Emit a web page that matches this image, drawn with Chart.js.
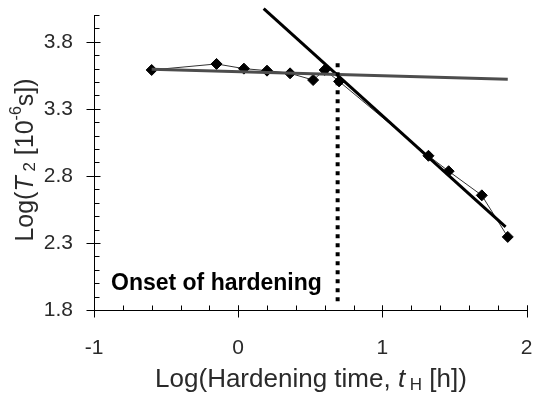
<!DOCTYPE html>
<html>
<head>
<meta charset="utf-8">
<script src="https://cdn.jsdelivr.net/npm/chart.js@4.4.1/dist/chart.umd.min.js"></script>
<style>
  html, body { margin: 0; padding: 0; background: #fff; }
  #wrap { width: 533px; height: 396px; }
</style>
</head>
<body>
<div id="wrap"><canvas id="chart" width="533" height="396"></canvas></div>
<script>
// valores
let logTime = [-0.6, -0.15, 0.04, 0.2, 0.36, 0.52, 0.6, 0.7, 1.32, 1.46, 1.69, 1.87];
let logT2 = [3.59, 3.635, 3.60, 3.585, 3.565, 3.515, 3.59, 3.505, 2.95, 2.835, 2.655, 2.345];

// retas de ajuste (pontos extremos)
let flatFitX = [-0.6, 1.87];
let flatFitY = [3.595, 3.52];
let steepFitX = [0.177, 1.855];
let steepFitY = [4.047, 2.42];

// linha pontilhada do inicio do endurecimento
let onsetX = [0.69, 0.69];
let onsetY = [3.64, 1.84];

let xTicks = [-1, 0, 1, 2];
let yTicks = [1.8, 2.3, 2.8, 3.3, 3.8];
let xMinorStep = 0.2;
let yMinorStep = 0.1;

const FONT = '"Liberation Sans", Arial, sans-serif';
const TXT = '#2a2a2a';

function pts(xs, ys){
	return xs.map((x, i) => {return {x: x, y: ys[i]}});
}

function noPad(s){
	s.paddingTop = 0; s.paddingBottom = 0; s.paddingLeft = 0; s.paddingRight = 0;
}

// desenha eixos e marcas de escala
const axesPlugin = {
	id: 'axesPlugin',
	afterDatasetsDraw(chart){
		const ctx = chart.ctx;
		const xs = chart.scales.x, ys = chart.scales.y;
		const x0 = Math.round(xs.left) + 0.5, y0 = Math.round(ys.bottom) + 0.5;
		ctx.save();
		ctx.strokeStyle = '#000';
		ctx.lineWidth = 1;
		ctx.beginPath();
		ctx.moveTo(x0, Math.round(ys.top));
		ctx.lineTo(x0, y0);
		ctx.lineTo(Math.round(xs.right) + 1, y0);
		for(let v = xs.min; v <= xs.max + 1e-9; v += xMinorStep){
			let px = Math.round(xs.getPixelForValue(v)) + 0.5;
			ctx.moveTo(px, y0);
			ctx.lineTo(px, y0 - 5);
		}
		for(let v = ys.min; v <= ys.max + 1e-9; v += yMinorStep){
			let py = Math.round(ys.getPixelForValue(v)) + 0.5;
			ctx.moveTo(x0, py);
			ctx.lineTo(x0 + 5, py);
		}
		xTicks.forEach((v) => {
			let px = Math.round(xs.getPixelForValue(v)) + 0.5;
			ctx.moveTo(px, y0 - 5);
			ctx.lineTo(px, y0 + 7);
		});
		yTicks.forEach((v) => {
			let py = Math.round(ys.getPixelForValue(v)) + 0.5;
			ctx.moveTo(x0 - 8, py);
			ctx.lineTo(x0 + 6, py);
		});
		ctx.stroke();
		ctx.restore();
	},
	afterDraw(chart){
		const ctx = chart.ctx;
		ctx.save();
		ctx.fillStyle = '#000';
		ctx.font = 'bold 23px ' + FONT;
		ctx.textBaseline = 'middle';
		ctx.fillText('Onset of hardening', 111, 284);

		// titulo eixo x
		ctx.fillStyle = TXT;
		drawRich(ctx, [
			{t: 'Log(Hardening time, ', f: '26px ' + FONT, dy: 0},
			{t: 't', f: 'italic 26px ' + FONT, dy: 0},
			{t: ' H', f: '17px ' + FONT, dy: 5},
			{t: ' [h])', f: '26px ' + FONT, dy: 0}
		], 311, 380);

		// titulo eixo y
		ctx.translate(26, 160);
		ctx.rotate(-Math.PI / 2);
		drawRich(ctx, [
			{t: 'Log(', f: '25px ' + FONT, dy: 0},
			{t: 'T', f: 'italic 25px ' + FONT, dy: 0},
			{t: ' 2', f: '17px ' + FONT, dy: 4},
			{t: ' [10', f: '25px ' + FONT, dy: 0},
			{t: '-6', f: '16px ' + FONT, dy: -9},
			{t: 's])', f: '25px ' + FONT, dy: 0}
		], 0, 0);
		ctx.restore();
	}
};

function drawRich(ctx, parts, cx, cy){
	ctx.textBaseline = 'middle';
	ctx.textAlign = 'left';
	let total = 0;
	parts.forEach((p) => {ctx.font = p.f; total += ctx.measureText(p.t).width;});
	let x = cx - total / 2;
	parts.forEach((p) => {
		ctx.font = p.f;
		ctx.fillText(p.t, x, cy + p.dy);
		x += ctx.measureText(p.t).width;
	});
}

let myChart = new Chart(document.getElementById('chart'), {
	type: 'scatter',
	data: {
		datasets: [
			{
				data: pts(onsetX, onsetY),
				showLine: true,
				borderColor: '#000',
				borderWidth: 4,
				borderDash: [4, 5],
				pointRadius: 0
			},
			{
				data: pts(flatFitX, flatFitY),
				showLine: true,
				borderColor: '#4d4d4d',
				borderWidth: 3,
				pointRadius: 0
			},
			{
				data: pts(steepFitX, steepFitY),
				showLine: true,
				borderColor: '#000',
				borderWidth: 3,
				pointRadius: 0,
				clip: 8
			},
			{
				data: pts(logTime, logT2),
				showLine: true,
				borderColor: '#333',
				borderWidth: 1,
				pointStyle: 'rectRot',
				pointRadius: 5.5,
				pointBackgroundColor: '#000',
				pointBorderColor: '#000',
				pointBorderWidth: 1
			}
		]
	},
	options: {
		responsive: false,
		animation: false,
		layout: {padding: {top: 15, right: 6, left: 0, bottom: 0}},
		plugins: {legend: {display: false}, tooltip: {enabled: false}},
		scales: {
			x: {
				type: 'linear',
				min: -1, max: 2,
				grid: {display: false, drawTicks: false},
				border: {display: false},
				afterBuildTicks: (s) => {s.ticks = xTicks.map((v) => {return {value: v}})},
				afterFit: (s) => {s.height = 86; noPad(s)},
				ticks: {color: TXT, font: {family: FONT, size: 21}, padding: 26, maxRotation: 0}
			},
			y: {
				type: 'linear',
				min: 1.8, max: 4.0,
				grid: {display: false, drawTicks: false},
				border: {display: false},
				afterBuildTicks: (s) => {s.ticks = yTicks.map((v) => {return {value: v}})},
				afterFit: (s) => {s.width = 94; noPad(s)},
				ticks: {color: TXT, font: {family: FONT, size: 21}, padding: 21, callback: (v) => v.toFixed(1)}
			}
		}
	},
	plugins: [axesPlugin]
});
</script>
</body>
</html>
